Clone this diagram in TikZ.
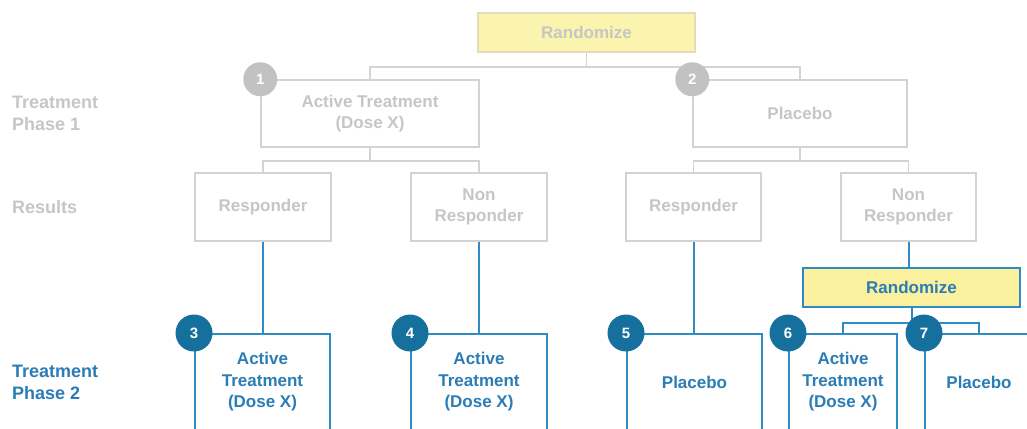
\documentclass[tikz,border=0pt]{standalone}
\usepackage{fontspec}
\setmainfont{Liberation Sans}
\definecolor{paleline}{HTML}{D3D3D3}
\definecolor{paletext}{HTML}{C6C6C6}
\definecolor{palecircle}{HTML}{C2C2C2}
\definecolor{paleyellow}{HTML}{FBF4AE}
\definecolor{paleyellowline}{HTML}{E2DDB8}
\definecolor{trialblue}{HTML}{2E8BC6}
\definecolor{trialtext}{HTML}{2A7DB5}
\definecolor{trialdark}{HTML}{16709E}
\definecolor{trialyellow}{HTML}{FAF09E}

\begin{document}
\begin{tikzpicture}[
  x=1pt,
  y=-1pt,
  every node/.style={
    font=\fontsize{17}{21.5}\selectfont\bfseries,
    inner sep=0pt,
    align=center
  },
  palebox/.style={
    draw=paleline,
    line width=1.5pt,
    fill=white,
    text=paletext
  },
  bluebox/.style={
    draw=trialblue,
    line width=2pt,
    fill=white,
    text=trialtext
  },
  paleline/.style={
    draw=paleline,
    line width=1.5pt
  },
  blueline/.style={
    draw=trialblue,
    line width=2pt
  },
  palenum/.style={
    circle,
    fill=palecircle,
    minimum size=34pt,
    text=white,
    font=\fontsize{15}{15}\selectfont\bfseries
  },
  bluenum/.style={
    circle,
    fill=trialdark,
    minimum size=37pt,
    text=white,
    font=\fontsize{15}{15}\selectfont\bfseries
  },
  rowlabel/.style={
    anchor=west,
    align=left,
    font=\fontsize{18}{22}\selectfont\bfseries
  },
]
\clip (0,0) rectangle (1027,428);
\fill[white] (0,0) rectangle (1027,428);

\node[palebox, fill=paleyellow, draw=paleyellowline, minimum width=217pt, minimum height=39pt] (rand1) at (586.5,32.5) {Randomize};
\node[palebox, minimum width=218pt, minimum height=67pt] (act1) at (370,113.5) {Active Treatment\\(Dose X)};
\node[palebox, minimum width=214pt, minimum height=67pt] (plac1) at (800,113.5) {Placebo};

\node[palebox, minimum width=136pt, minimum height=68pt] (resp1) at (263,207) {Responder};
\node[palebox, minimum width=136pt, minimum height=68pt] (non1) at (479,207) {Non\\Responder};
\node[palebox, minimum width=135pt, minimum height=68pt] (resp2) at (693.5,207) {Responder};
\node[palebox, minimum width=135pt, minimum height=68pt] (non2) at (908.5,207) {Non\\Responder};

\node[bluebox, fill=trialyellow, minimum width=217pt, minimum height=39pt] (rand2) at (911.5,287.5) {Randomize};

\node[bluebox, minimum width=135pt, minimum height=96pt] (arm3) at (262.5,382) {Active\\Treatment\\(Dose X)};
\node[bluebox, minimum width=136pt, minimum height=96pt] (arm4) at (479,382) {Active\\Treatment\\(Dose X)};
\node[bluebox, minimum width=135pt, minimum height=96pt] (arm5) at (694.5,382) {Placebo};
\node[bluebox, minimum width=108pt, minimum height=96pt] (arm6) at (843,382) {Active\\Treatment\\(Dose X)};
\node[bluebox, minimum width=108pt, minimum height=96pt] (arm7) at (979,382) {Placebo};

\draw[paleline] (rand1.south) -- ++(0,14) -| (act1.north);
\draw[paleline] (rand1.south) -- ++(0,14) -| (plac1.north);
\draw[paleline] (act1.south) -- ++(0,13) -| (resp1.north);
\draw[paleline] (act1.south) -- ++(0,13) -| (non1.north);
\draw[paleline] (plac1.south) -- ++(0,13) -| (resp2.north);
\draw[paleline] (plac1.south) -- ++(0,13) -| (non2.north);

\draw[blueline] (resp1.south) -- (resp1.south |- arm3.north);
\draw[blueline] (non1.south) -- (arm4.north);
\draw[blueline] (resp2.south) -- (resp2.south |- arm5.north);
\draw[blueline] (non2.south) -- (non2.south |- rand2.north);
\draw[blueline] (rand2.south) -- ++(0,15) -| (arm6.north);
\draw[blueline] (rand2.south) -- ++(0,15) -| (arm7.north);

\node[palenum] (n1) at (act1.north west) {1};
\node[palenum] (n2) at (plac1.north west) {2};
\node[bluenum] (n3) at (arm3.north west) {3};
\node[bluenum] (n4) at (arm4.north west) {4};
\node[bluenum] (n5) at (arm5.north west) {5};
\node[bluenum] (n6) at (arm6.north west) {6};
\node[bluenum] (n7) at (arm7.north west) {7};

\node[rowlabel, text=paletext] (phase1) at (12,113) {Treatment\\Phase 1};
\node[rowlabel, text=paletext] (results) at (12,207) {Results};
\node[rowlabel, text=trialtext] (phase2) at (12,382) {Treatment\\Phase 2};
\end{tikzpicture}
\end{document}
